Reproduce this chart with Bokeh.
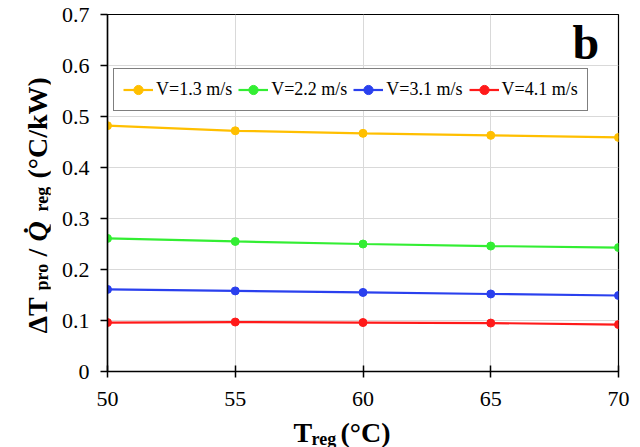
import math
from bokeh.plotting import figure
from bokeh.models import Label, Legend, LegendItem, FixedTicker, Range1d
from bokeh.layouts import row, column
from bokeh.core.properties import value
from bokeh.embed import file_html
from bokeh.resources import INLINE

# ---- data ----
t_reg = [50, 55, 60, 65, 70]
v13 = [0.482, 0.472, 0.467, 0.463, 0.459]
v22 = [0.261, 0.255, 0.250, 0.246, 0.243]
v31 = [0.161, 0.158, 0.155, 0.152, 0.149]
v41 = [0.096, 0.097, 0.096, 0.095, 0.092]
series_names = ["V=1.3 m/s", "V=2.2 m/s", "V=3.1 m/s", "V=4.1 m/s"]
series_colors = ["#FFBF00", "#33EE33", "#2A40EE", "#FF1A1A"]
x_ticks = [50, 55, 60, 65, 70]
y_ticks = [0, 0.1, 0.2, 0.3, 0.4, 0.5, 0.6, 0.7]
y_tick_labels = ["0", "0.1", "0.2", "0.3", "0.4", "0.5", "0.6", "0.7"]

FONT = "Liberation Serif"

# ---- main plot (page x 50..640, y 0..422) ----
p = figure(width=590, height=422, output_backend="svg", toolbar_location=None,
           x_range=Range1d(50, 70), y_range=Range1d(0, 0.7),
           min_border_left=57, min_border_right=22, min_border_top=14, min_border_bottom=51)
p.background_fill_color = "white"
p.border_fill_color = "white"
p.outline_line_color = "black"
p.outline_line_width = 1.2

p.xgrid.ticker = FixedTicker(ticks=x_ticks)
p.ygrid.ticker = FixedTicker(ticks=y_ticks)
p.xgrid.grid_line_color = "#d9d9d9"
p.ygrid.grid_line_color = "#d9d9d9"

p.xaxis.ticker = FixedTicker(ticks=x_ticks)
p.yaxis.ticker = FixedTicker(ticks=y_ticks)
p.yaxis.major_label_overrides = {t: s for t, s in zip(y_ticks, y_tick_labels)}
for ax in (p.xaxis[0], p.yaxis[0]):
    ax.axis_line_color = "black"
    ax.axis_line_width = 1.5
    ax.major_tick_line_color = "black"
    ax.major_tick_line_width = 1.5
    ax.minor_tick_line_color = None
    ax.major_label_text_font = FONT
    ax.major_label_text_font_size = "22px"
    ax.major_label_text_color = "black"
p.xaxis.major_tick_in = 6
p.xaxis.major_tick_out = 6
p.xaxis.major_label_standoff = 14
p.yaxis.major_tick_in = 0
p.yaxis.major_tick_out = 7
p.yaxis.major_label_standoff = 11

items = []
for ys, name, col in zip([v13, v22, v31, v41], series_names, series_colors):
    r1 = p.line(t_reg, ys, line_color=col, line_width=2.2)
    r2 = p.scatter(t_reg, ys, marker="circle", size=8, fill_color=col, line_color=col)
    items.append(LegendItem(label=name, renderers=[r1, r2]))

legend = Legend(items=items, orientation="horizontal", location=(6, 260))
legend.label_text_font = FONT
legend.label_text_font_size = "18px"
legend.label_text_color = "black"
legend.glyph_width = 30
legend.glyph_height = 23
legend.label_standoff = 3
legend.spacing = 6
legend.padding = 9
legend.margin = 0
legend.border_line_color = "black"
legend.border_line_width = 1.5
legend.background_fill_color = "white"
legend.background_fill_alpha = 1
p.add_layout(legend, "center")

p.add_layout(Label(x=465, y=329, x_units="screen", y_units="screen", text="b",
                   text_font=FONT, text_font_style="bold", text_font_size="48px",
                   text_color="black", text_align="left", text_baseline="alphabetic"))


def bare(w, h, xr, yr, **kw):
    f = figure(width=w, height=h, output_backend="svg", toolbar_location=None, title=None,
               x_axis_location=None, y_axis_location=None,
               x_range=Range1d(*xr), y_range=Range1d(*yr),
               min_border=0, min_border_left=0, min_border_right=0,
               min_border_top=0, min_border_bottom=0, **kw)
    f.grid.visible = False
    f.outline_line_color = None
    return f


def put(f, x, y, text, size, style="bold", angle=0.0):
    f.text(x=[x], y=[y], text=[text], angle=angle,
           text_font=value(FONT), text_font_style=value(style),
           text_font_size=value(size), text_color="black",
           text_align="left", text_baseline="alphabetic")


# ---- y axis label panel: page x 0..100 (right half lies under the main plot), y = 447 - page y ----
yl = bare(100, 447, (0, 100), (0, 447))
yl.background_fill_color = "white"
yl.border_fill_color = "white"
A = math.pi / 2
put(yl, 37, 114, "ΔT", "28px", angle=A)
put(yl, 41, 157, "pro", "18px", angle=A)
put(yl, 37, 191, "/", "28px", angle=A)
put(yl, 37, 206, "Q\u0307", "28px", style="bold italic", angle=A)
put(yl, 41, 236, "reg", "18px", angle=A)
put(yl, 37, 269, "(°C/kW)", "28px", angle=A)

# ---- x axis label panel: frame aligned with the main frame (page x 107..618), page y 402..447 ----
xl = bare(590, 45, (107, 618), (0, 45), margin=(-20, 0, 0, 0))
xl.background_fill_alpha = 0
xl.border_fill_alpha = 0
put(xl, 293, 15, "T", "28px")
put(xl, 311, 9, "reg", "18px")
put(xl, 340, 15, "(°C)", "28px")

right = column(p, xl, spacing=0, margin=(0, 0, 0, -50))
layout = row(yl, right, spacing=0)
open("out.html", "w").write(file_html(layout, INLINE))
